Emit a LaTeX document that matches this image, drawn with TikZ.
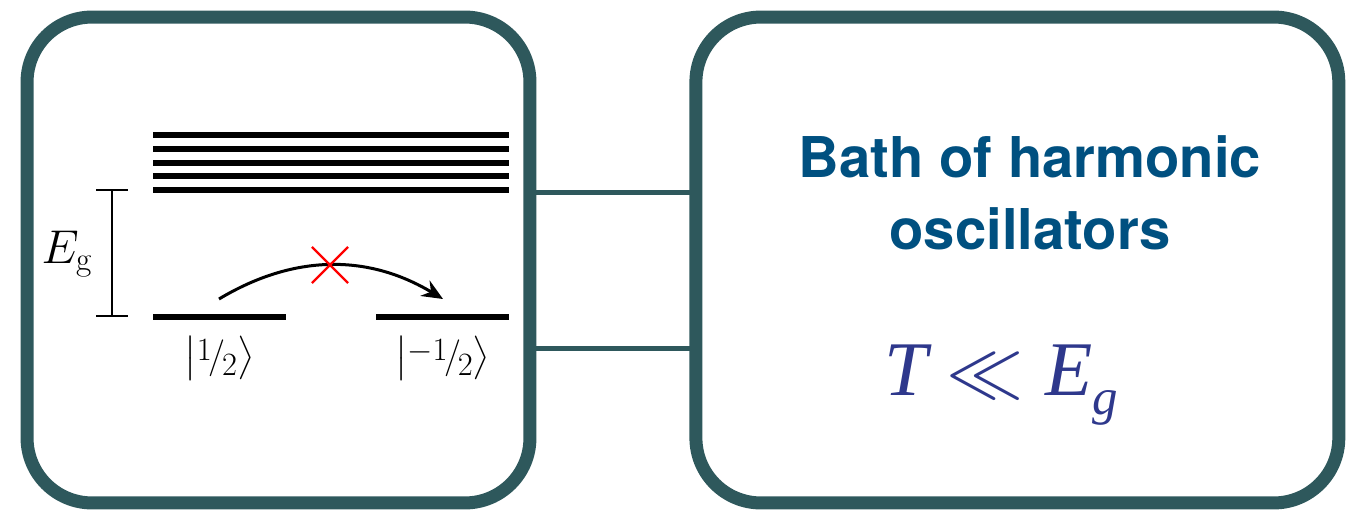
\documentclass[tikz,border=0pt]{standalone}
\usepackage{fix-cm}
\usepackage{amsmath}
\usepackage{fontspec}
\usepackage{xcolor}
\usepackage{tikz}
\usetikzlibrary{shapes.misc,arrows.meta,positioning,calc}

\newfontfamily\heros{TeX Gyre Heros}
\newfontfamily\tms{Liberation Serif}

\definecolor{panelcol}{HTML}{2E585C}
\definecolor{bathcol}{HTML}{005080}
\definecolor{tempcol}{HTML}{2E388C}

\newcommand{\spinfrac}[2]{{\fontsize{18.5}{18.5}\selectfont\raisebox{0.2em}{$#1$}}\kern-0.08em/\kern-0.1em{\fontsize{18.5}{18.5}\selectfont\raisebox{-0.25em}{$#2$}}}

\begin{document}
\begin{tikzpicture}[x=0.02cm, y=-0.02cm,
    panel/.style={rectangle, draw=panelcol, line width=0.26cm, rounded corners=1.3cm, minimum height=9.72cm, outer sep=0pt},
    level/.style={line width=0.12cm},
    link/.style={draw=panelcol, line width=0.1cm},
    gapbar/.style={draw, line width=0.05cm},
    hop/.style={draw, -{Stealth[length=0.42cm, width=0.36cm, inset=0.14cm]}, line width=0.06cm},
    ket/.style={font=\fontsize{21}{25}\selectfont},
    bathtxt/.style={font=\heros\bfseries\fontsize{32}{41}\selectfont, text=bathcol, align=center},
    temptxt/.style={font=\tms\itshape\fontsize{44}{50}\selectfont, text=tempcol}]

    \useasboundingbox (0,0) rectangle (1348,513);

    % the two panels
    \node [panel, minimum width=10.06cm] (spin) at (278.5,260) {};
    \node [panel, minimum width=12.86cm, right=3.32cm of spin] (bath) {};

    \draw [link] ([yshift=1.36cm]spin.east) -- ([yshift=1.36cm]bath.west);
    \draw [link] ([yshift=-1.78cm]spin.east) -- ([yshift=-1.78cm]bath.west);

    % excited levels
    \foreach \y in {135,149,163,176,190}
        \draw [level] (153,\y) -- (509,\y);

    % ground doublet
    \draw [level] (153,317) coordinate (upL) -- (286,317) coordinate (upR);
    \draw [level] (376,317) coordinate (dnL) -- (509,317) coordinate (dnR);
    \node [ket] (kup) at ($(upL)!0.5!(upR)+(0,41)$) {$\bigl|$\spinfrac{1}{2}$\bigr\rangle$};
    \node [ket] (kdn) at ($(dnL)!0.5!(dnR)+(0,41)$) {$\bigl|$\spinfrac{-1}{2}$\bigr\rangle$};

    % gap
    \draw [gapbar] (96,190) -- (128,190) (112,190) -- (112,316) (96,316) -- (128,316);
    \node [font=\fontsize{27}{32}\selectfont, anchor=base] (gap) at (67,263) {$E_{\mathrm{g}}$};

    % forbidden flip
    \coordinate (hopA) at (219,299);
    \coordinate (hopB) at (443,299);
    \draw [hop] (hopA) .. controls (294,254) and (368,254) .. (hopB);
    \node [draw=red, cross out, line width=0.045cm, minimum size=0.68cm, inner sep=0pt] (blk) at (330,265) {};

    % bath
    \node [bathtxt, anchor=base] (bathname) at (1030,250) {Bath of harmonic\\oscillators};
    \node [temptxt, anchor=base west, inner sep=0pt] (cond) at (884,395) {T\kern0.25em{\upshape$\ll$}\kern0.28em E\raisebox{-11pt}{\fontsize{29}{29}\selectfont g}};
\end{tikzpicture}
\end{document}
